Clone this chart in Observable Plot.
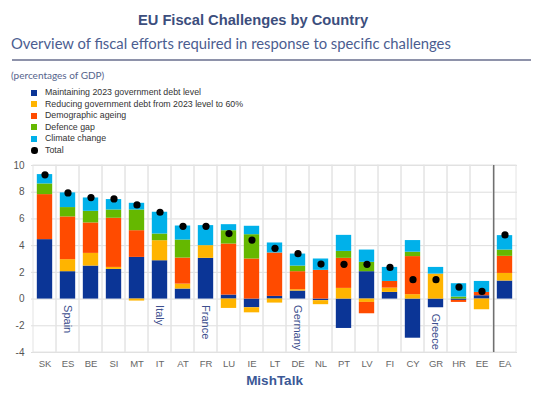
<!DOCTYPE html>
<html>
<head>
<meta charset="utf-8">
<script src="https://cdn.jsdelivr.net/npm/d3@7"></script>
<script src="https://cdn.jsdelivr.net/npm/@observablehq/plot@0.6"></script>
<style>
  html, body { margin: 0; padding: 0; background: #fff; }
  #wrap { position: relative; width: 540px; height: 397px; overflow: hidden; font-family: "Liberation Sans", Arial, sans-serif; }
  #title { position: absolute; left: 0; width: 506px; top: 12px; text-align: center; font-weight: bold; font-size: 14.7px; line-height: 17px; color: #3c4e7d; }
  #subtitle { position: absolute; left: 11px; top: 34px; font-family: Lato, "Open Sans", sans-serif; font-size: 14.8px; line-height: 18px; color: #4b5d90; white-space: nowrap; }
  #rule { position: absolute; left: 12px; top: 59px; width: 519px; height: 2px; background: #8e92aa; }
  #caption { position: absolute; left: 11px; top: 69px; font-family: Lato, "Open Sans", sans-serif; font-size: 10px; line-height: 12px; color: #55648c; }
  #legend { position: absolute; left: 31px; top: 87px; font-size: 8.8px; color: #333; }
  .row { height: 11.5px; line-height: 11.5px; white-space: nowrap; display: flex; align-items: center; }
  .sw { width: 6px; height: 6px; margin-right: 8px; flex: none; }
  .dot { width: 6.5px; height: 6.5px; border-radius: 50%; background: #000; margin-right: 7.5px; flex: none; }
  #chart { position: absolute; left: 0; top: 150px; }
</style>
</head>
<body>
<div id="wrap">
  <div id="title">EU Fiscal Challenges by Country</div>
  <div id="subtitle">Overview of fiscal efforts required in response to specific challenges</div>
  <div id="rule"></div>
  <div id="caption">(percentages of GDP)</div>
  <div id="legend"></div>
  <div id="chart"></div>
</div>
<script>
// ---- data ----
const countries = ["SK","ES","BE","SI","MT","IT","AT","FR","LU","IE","LT","DE","NL","PT","LV","FI","CY","GR","HR","EE","EA"];
const seriesNames = [
  "Maintaining 2023 government debt level",
  "Reducing government debt from 2023 level to 60%",
  "Demographic ageing",
  "Defence gap",
  "Climate change"
];
const seriesColors = ["#0b3596", "#ffb400", "#ff4b00", "#65b800", "#00b1ea"];
const maintainDebt = [4.45, 2.05, 2.47, 2.22, 3.12, 2.87, 0.75, 3.05, 0.30, -0.65, 0.20, 0.60, -0.12, -2.20, 2.05, 0.50, -2.93, -0.65, -0.10, 0.25, 1.35];
const reduceDebt   = [0.00, 0.90, 0.95, 0.15, -0.15, 1.50, 0.37, 0.95, -0.70, -0.38, -0.30, 0.10, -0.30, 0.80, -0.25, 0.32, 0.33, 1.87, 0.00, -0.80, 0.57];
const ageing       = [3.37, 3.20, 2.28, 3.68, 2.00, 0.00, 1.95, 0.00, 3.82, 3.00, 3.25, 1.35, 2.15, 2.25, -0.85, 0.50, 2.85, 0.00, -0.15, 0.25, 1.28];
const defenceGap   = [0.80, 0.70, 0.87, 0.62, 1.55, 0.50, 1.35, 0.00, 1.00, 1.82, 0.00, 0.42, 0.00, 0.52, 0.70, 0.00, 0.33, 0.00, 0.15, 0.00, 0.47];
const climate      = [0.70, 1.10, 1.00, 0.78, 0.50, 1.63, 1.05, 1.50, 0.45, 0.63, 0.75, 0.90, 0.85, 1.20, 0.92, 1.05, 0.87, 0.50, 1.00, 0.82, 1.08];
const totals       = [9.30, 7.95, 7.60, 7.50, 7.05, 6.50, 5.45, 5.45, 4.90, 4.42, 3.80, 3.40, 2.62, 2.60, 2.60, 2.37, 1.45, 1.45, 0.90, 0.57, 4.80];
const namedCountries = ["ES", "IT", "FR", "DE", "GR"];
const countryNames   = ["Spain", "Italy", "France", "Germany", "Greece"];
const yTicks = [-4, -2, 0, 2, 4, 6, 8, 10];
const aggregate = "EA";
const sourceLabel = "MishTalk";

// ---- tables ----
const seriesValues = [maintainDebt, reduceDebt, ageing, defenceGap, climate];
const rows = countries.flatMap((c, i) => seriesNames.map((s, j) => ({country: c, series: s, value: seriesValues[j][i]})));
const totalRows = countries.map((c, i) => ({country: c, total: totals[i]}));
const nameRows = namedCountries.map((c, k) => {
  const i = countries.indexOf(c);
  const neg = d3.sum(seriesValues, v => Math.min(0, v[i]));
  return {country: c, name: countryNames[k], base: neg};
});

// ---- legend ----
const legend = document.getElementById("legend");
seriesNames.forEach((s, j) => {
  const r = document.createElement("div"); r.className = "row";
  r.innerHTML = `<span class="sw" style="background:${seriesColors[j]}"></span><span>${s}</span>`;
  legend.appendChild(r);
});
{
  const r = document.createElement("div"); r.className = "row";
  r.innerHTML = `<span class="dot"></span><span>Total</span>`;
  legend.appendChild(r);
}

// ---- chart ----
const W = 540, H = 247, mL = 31, mR = 23, mT = 15, mB = 45;
const band = (W - mL - mR) / countries.length;
const inset = band * 0.165;

const plot = Plot.plot({
  width: W, height: H,
  marginLeft: mL, marginRight: mR, marginTop: mT, marginBottom: mB,
  style: {fontFamily: "'Liberation Sans', Arial, sans-serif", fontSize: "9.5px", color: "#555", background: "transparent"},
  x: {domain: countries, padding: 0, label: null},
  y: {domain: [-4, 10], ticks: yTicks, label: null},
  color: {domain: seriesNames, range: seriesColors},
  marks: [
    Plot.gridY(yTicks, {stroke: "#dedede", strokeOpacity: 1}),
    Plot.barY(countries, {x: d => d, y1: -4, y2: 10, fill: "none", stroke: "#e4e4e4", strokeWidth: 1}),
    Plot.barY(rows, {x: "country", y: "value", fill: "series", insetLeft: inset, insetRight: inset}),
    Plot.barY([aggregate], {x: d => d, y1: -4, y2: 10, fill: "#707070", insetRight: band - 1.6}),
    Plot.dot(totalRows, {x: "country", y: "total", r: 3.6, fill: "#000"}),
    Plot.text(nameRows, {x: "country", y: "base", text: "name", rotate: 90, textAnchor: "start", lineAnchor: "middle", dy: 6, fontSize: 11, fill: "#3d4f8e"}),
    Plot.axisY(yTicks, {tickSize: 0, tickPadding: 7, tickFormat: d => String(d), fontSize: 10, fill: "#555"}),
    Plot.axisX({tickSize: 0, tickPadding: 8, fontSize: 9.5, fill: "#666"}),
    Plot.text([sourceLabel], {frameAnchor: "bottom", dy: 28.5, lineAnchor: "middle", fontSize: 13.5, fontWeight: "bold", fill: "#3b5896"})
  ]
});
document.getElementById("chart").appendChild(plot);
</script>
</body>
</html>
